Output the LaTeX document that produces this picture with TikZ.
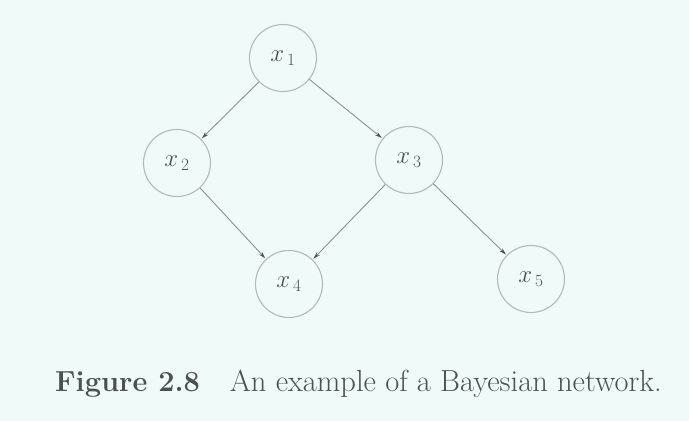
\documentclass[tikz,border=0pt]{standalone}
\usetikzlibrary{arrows.meta}
\definecolor{bgc}{HTML}{F0FBF9}
\definecolor{circc}{HTML}{B4B8B8}
\definecolor{linec}{HTML}{8C9090}
\definecolor{txtc}{HTML}{4C5050}
\begin{document}
\begin{tikzpicture}[x=1pt,y=-1pt,
  var/.style={circle,draw=circc,line width=1.1pt,minimum size=67pt,inner sep=0pt,text=txtc,font=\fontsize{25}{29}\selectfont},
  edge/.style={draw=linec,line width=0.9pt,-{Stealth[length=7pt,width=4pt,color=txtc]},shorten >=1pt}]
\fill[bgc] (0,0) rectangle (689,421);
\useasboundingbox (0,0) rectangle (689,421);
\node[var] (x1) at (283,58) {$x_{\,1}$};
\node[var] (x2) at (177,163) {$x_{\,2}$};
\node[var] (x3) at (409,160) {$x_{\,3}$};
\node[var] (x4) at (289,284) {$x_{\,4}$};
\node[var] (x5) at (531,279) {$x_{\,5}$};
\draw[edge] (x1) -- (x2);
\draw[edge] (x1) -- (x3);
\draw[edge] (x2) -- (x4);
\draw[edge] (x3) -- (x4);
\draw[edge] (x3) -- (x5);
\node[anchor=base west,text=txtc,font=\fontsize{29}{34}\selectfont\bfseries,inner sep=0pt] (fig) at (55,391) {Figure 2.8};
\node[anchor=base east,text=txtc,font=\fontsize{30.5}{35}\selectfont,inner sep=0pt] (cap) at (662,391) {An example of a Bayesian network.};
\end{tikzpicture}
\end{document}
